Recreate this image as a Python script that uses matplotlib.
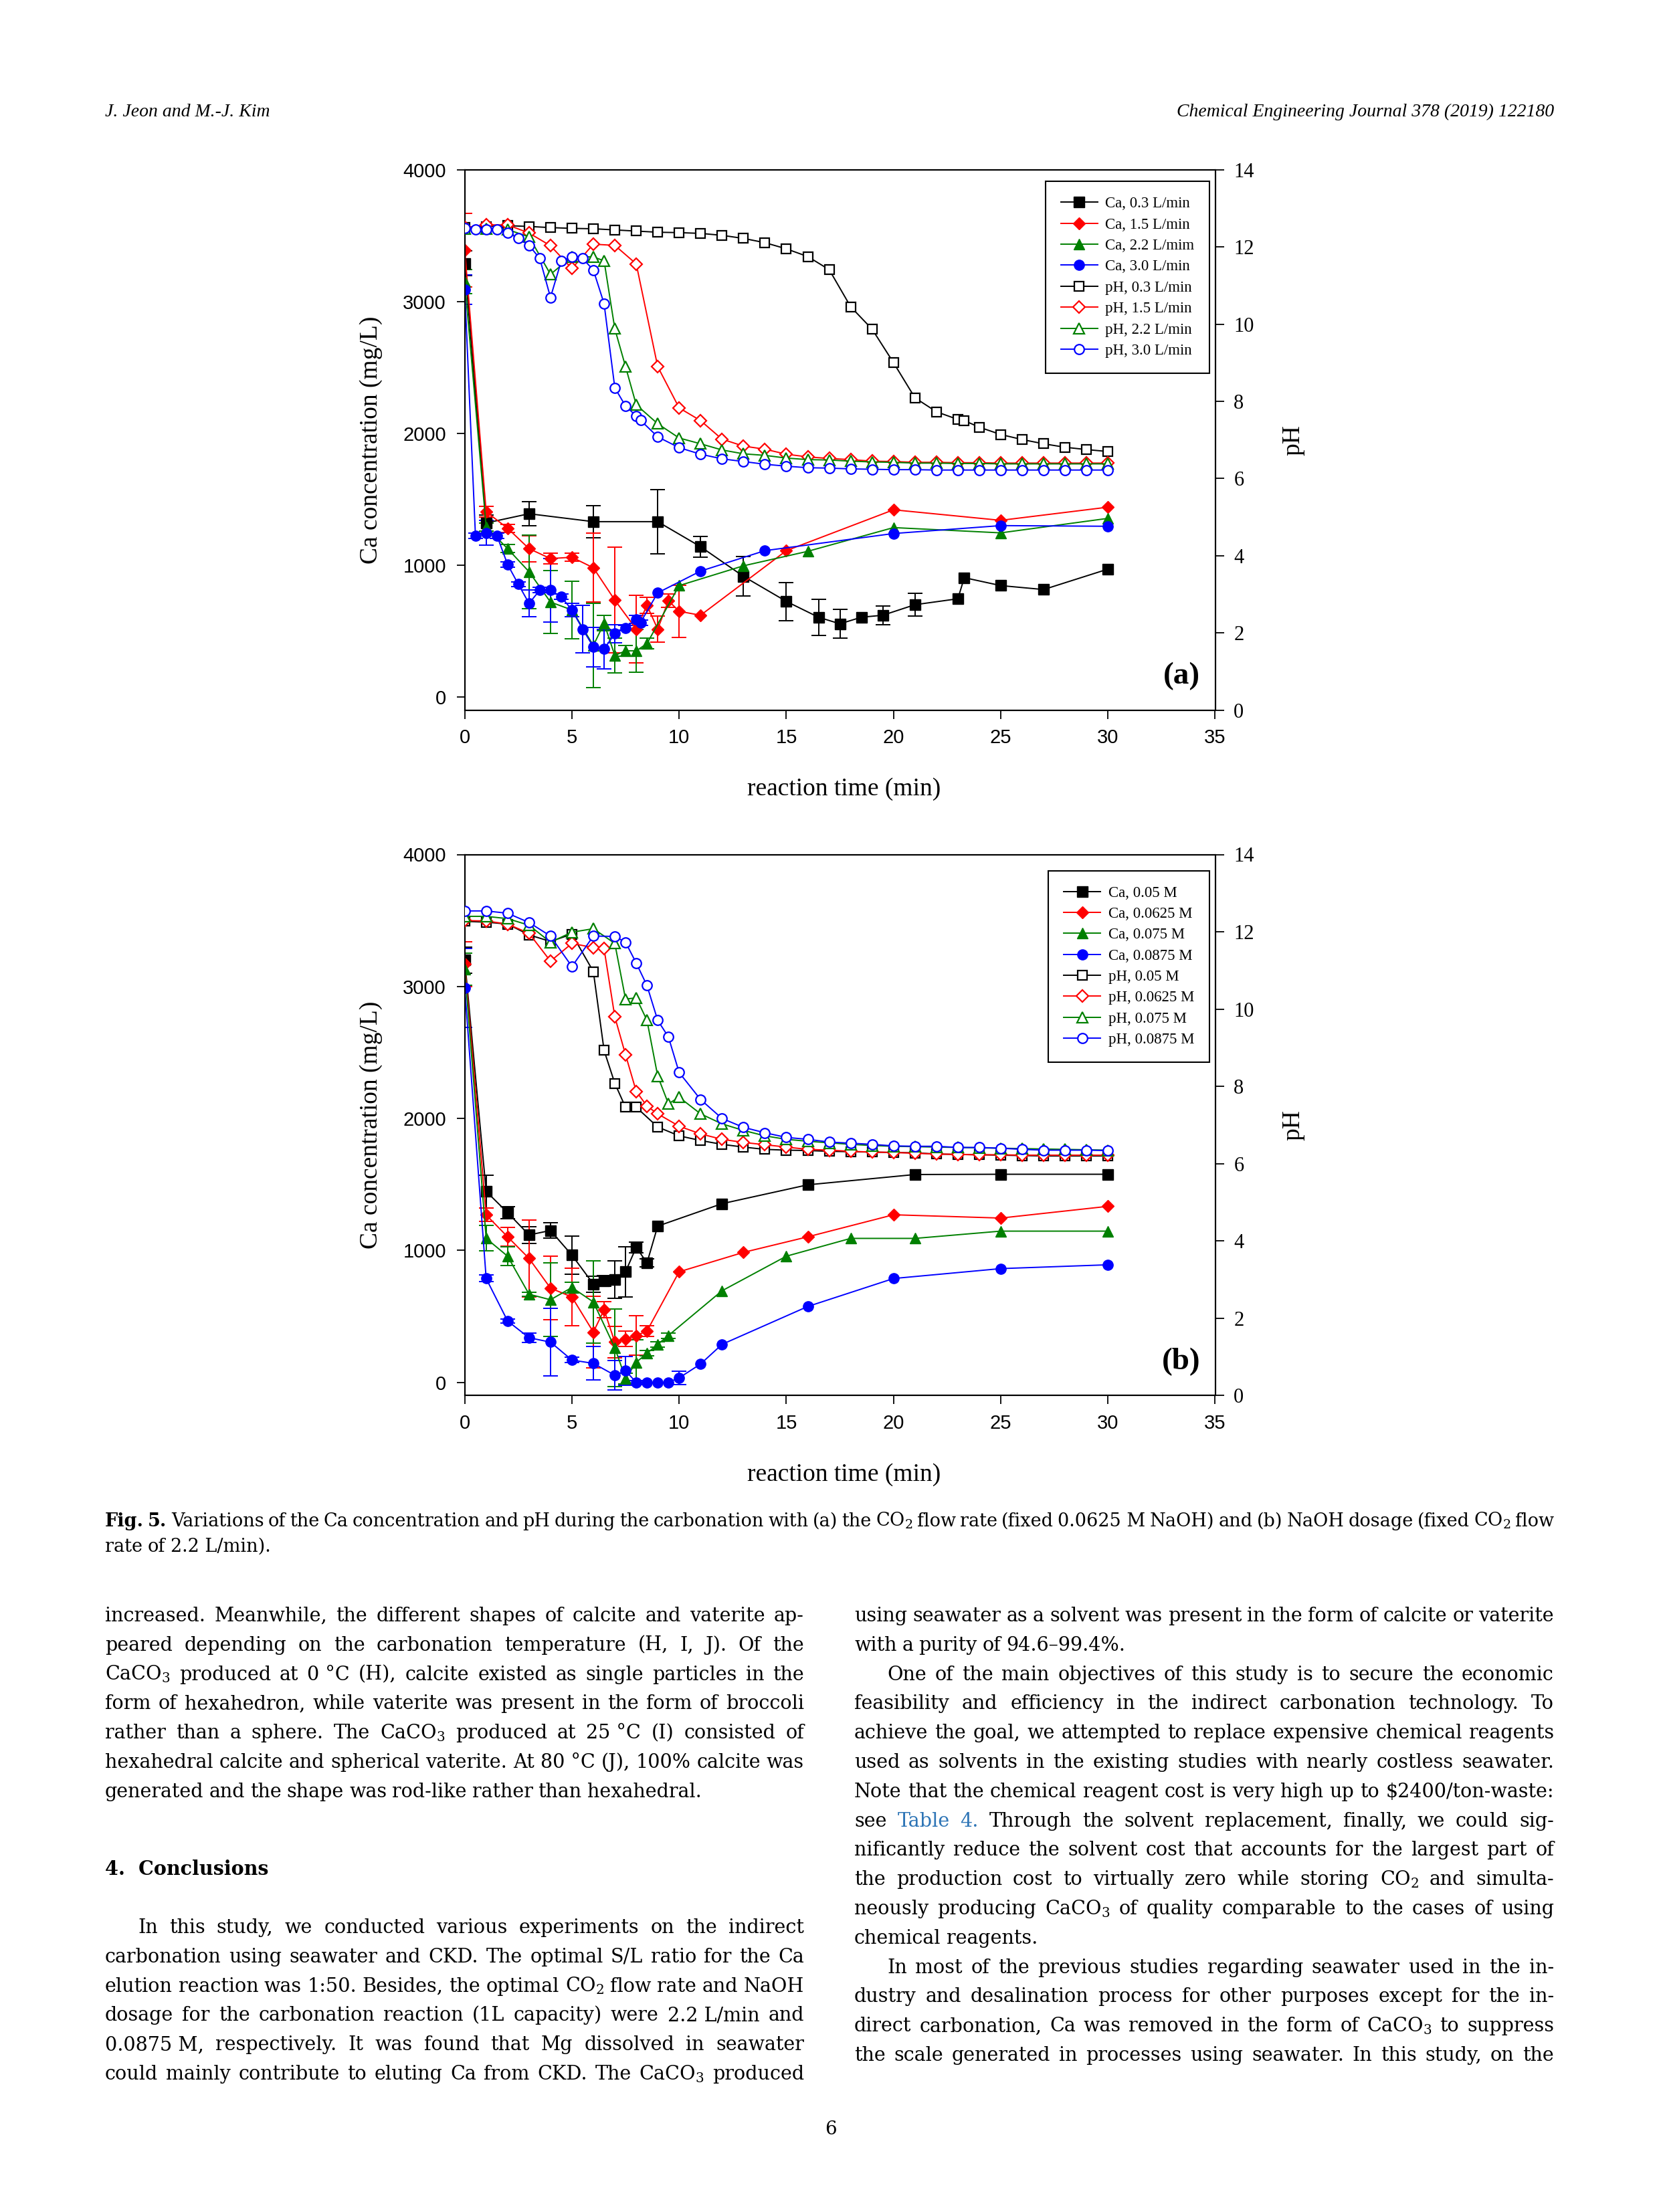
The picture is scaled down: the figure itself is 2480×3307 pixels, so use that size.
import matplotlib
matplotlib.use('Agg')
import matplotlib.pyplot as plt
import numpy as np

plt.rcParams['font.family'] = ['Liberation Serif', 'DejaVu Serif']
plt.rcParams['mathtext.fontset'] = 'custom'
plt.rcParams['mathtext.rm'] = 'Liberation Serif'
plt.rcParams['mathtext.default'] = 'regular'

# ---------------- data, panel (a): CO2 flow rate ----------------
a_t_ca03 = [0, 1, 3, 6, 9, 11, 13, 15, 16.5, 17.5, 18.5, 19.5, 21, 23, 23.3, 25, 27, 30]
a_ca03 = [3290, 1320, 1390, 1330, 1330, 1140, 915, 725, 605, 555, 605, 620, 700, 745, 905, 845, 815, 970]
a_err03 = [95, 60, 90, 120, 245, 80, 150, 145, 138, 110, 0, 70, 87, 0, 0, 0, 0, 0]

a_t_ca15 = [0, 1, 2, 3, 4, 5, 6, 7, 8, 8.5, 9, 9.5, 10, 11, 15, 20, 25, 30]
a_ca15 = [3390, 1405, 1280, 1125, 1050, 1060, 980, 735, 515, 695, 515, 730, 650, 620, 1110, 1420, 1340, 1440]
a_err15 = [280, 40, 30, 100, 40, 30, 262, 400, 254, 60, 100, 50, 196, 0, 0, 0, 0, 0]

a_t_ca22 = [0, 1, 2, 3, 4, 5, 6, 6.5, 7, 7.5, 8, 8.5, 10, 13, 16, 20, 25, 30]
a_ca22 = [3150, 1290, 1125, 950, 720, 660, 390, 560, 315, 350, 350, 405, 845, 995, 1105, 1285, 1245, 1355]
a_err22 = [90, 30, 30, 280, 240, 220, 320, 60, 130, 40, 160, 40, 0, 0, 0, 0, 0, 0]

a_t_ca30 = [0, 0.5, 1, 1.5, 2, 2.5, 3, 3.5, 4, 4.5, 5, 5.5, 6, 6.5, 7, 7.5, 8, 8.2, 9, 11, 14, 20, 25, 30]
a_ca30 = [3090, 1225, 1245, 1225, 1005, 855, 710, 810, 810, 760, 660, 515, 380, 365, 480, 525, 590, 565,
          790, 955, 1110, 1240, 1300, 1295]
a_err30 = [110, 20, 95, 20, 20, 20, 100, 20, 240, 20, 50, 180, 150, 150, 70, 20, 30, 20, 0, 0, 0, 0, 0, 0]

a_t_ph03 = list(range(0, 24)) + [23.3] + list(range(24, 31))
a_ph03 = [12.5, 12.53, 12.55, 12.53, 12.50, 12.48, 12.47, 12.44, 12.41, 12.38, 12.37, 12.35, 12.30, 12.22,
          12.11, 11.95, 11.75, 11.41, 10.45, 9.87, 9.0, 8.09, 7.73, 7.53, 7.50, 7.33, 7.14, 7.01, 6.90, 6.81,
          6.75, 6.70]

a_t_ph15 = list(range(0, 31))
a_ph15 = [12.5, 12.57, 12.57, 12.36, 12.03, 11.44, 12.07, 12.04, 11.56, 8.90, 7.83, 7.50, 7.02, 6.84, 6.76,
          6.63, 6.56, 6.52, 6.49, 6.45, 6.44, 6.42, 6.42, 6.41, 6.41, 6.40, 6.40, 6.40, 6.40, 6.40, 6.40]

a_t_ph22 = [0, 1, 2, 3, 4, 5, 6, 6.5, 7, 7.5, 8] + list(range(9, 31))
a_ph22 = [12.47, 12.47, 12.45, 12.26, 11.29, 11.75, 11.74, 11.64, 9.88, 8.90, 7.91, 7.42, 7.05, 6.90, 6.74,
          6.64, 6.60, 6.53, 6.49, 6.48, 6.45, 6.43, 6.42, 6.40, 6.40, 6.39, 6.39, 6.38, 6.38, 6.38, 6.38,
          6.38, 6.38]

a_t_ph30 = [0, 0.5, 1, 1.5, 2, 2.5, 3, 3.5, 4, 4.5, 5, 5.5, 6, 6.5, 7, 7.5, 8, 8.2] + list(range(9, 31))
a_ph30 = [12.48, 12.46, 12.46, 12.46, 12.36, 12.23, 12.04, 11.70, 10.69, 11.63, 11.75, 11.70, 11.40, 10.53,
          8.35, 7.88, 7.62, 7.51, 7.08, 6.80, 6.63, 6.51, 6.44, 6.37, 6.32, 6.28, 6.27, 6.25, 6.24, 6.23,
          6.23, 6.22, 6.22, 6.22, 6.22, 6.22, 6.22, 6.22, 6.22, 6.22]

a_labels = ['Ca, 0.3 L/min', 'Ca, 1.5 L/min', 'Ca, 2.2 L/mim', 'Ca, 3.0 L/min',
            'pH, 0.3 L/min', 'pH, 1.5 L/min', 'pH, 2.2 L/min', 'pH, 3.0 L/min']

# ---------------- data, panel (b): NaOH dosage ----------------
b_t_ca05 = [0, 1, 2, 3, 4, 5, 6, 6.5, 7, 7.5, 8, 8.5, 9, 12, 16, 21, 25, 30]
b_ca05 = [3200, 1447, 1286, 1117, 1151, 964, 745, 770, 778, 838, 1024, 905, 1184, 1354, 1497, 1575, 1577, 1577]
b_err05 = [100, 124, 47, 62, 57, 144, 60, 40, 142, 190, 40, 30, 0, 0, 0, 0, 0, 0]

b_t_ca0625 = [0, 1, 2, 3, 4, 5, 6, 6.5, 7, 7.5, 8, 8.5, 10, 13, 16, 20, 25, 30]
b_ca0625 = [3170, 1269, 1103, 939, 714, 647, 381, 550, 305, 330, 355, 389, 838, 985, 1103, 1270, 1245, 1334]
b_err0625 = [170, 50, 72, 290, 240, 220, 270, 60, 120, 60, 150, 40, 0, 0, 0, 0, 0, 0]

b_t_ca075 = [0, 1, 2, 3, 4, 5, 6, 7, 7.5, 8, 8.5, 9, 9.5, 12, 15, 18, 21, 25, 30]
b_ca075 = [3130, 1091, 956, 668, 626, 719, 609, 262, 30, 152, 220, 288, 355, 694, 956, 1091, 1091, 1146, 1146]
b_err075 = [120, 96, 70, 15, 280, 40, 310, 296, 40, 170, 20, 20, 20, 0, 0, 0, 0, 0, 0]

b_t_ca0875 = [0, 1, 2, 3, 4, 5, 6, 7, 7.5, 8, 8.5, 9, 9.5, 10, 11, 12, 16, 20, 25, 30]
b_ca0875 = [2990, 787, 465, 338, 305, 169, 144, 54, 88, 0, 0, 0, 0, 34, 139, 288, 575, 787, 862, 891]
b_err0875 = [300, 25, 15, 37, 258, 20, 127, 110, 110, 15, 0, 0, 0, 52, 0, 0, 0, 0, 0, 0]

b_t_ph05 = [0, 1, 2, 3, 4, 5, 6, 6.5, 7, 7.5, 8] + list(range(9, 31))
b_ph05 = [12.27, 12.25, 12.20, 11.92, 11.75, 11.94, 10.97, 8.93, 8.08, 7.46, 7.46, 6.95, 6.72, 6.60, 6.50,
          6.43, 6.37, 6.35, 6.34, 6.32, 6.31, 6.30, 6.29, 6.28, 6.25, 6.24, 6.23, 6.22, 6.21, 6.20, 6.20,
          6.20, 6.20]

b_t_ph0625 = [0, 1, 2, 3, 4, 5, 6, 6.5, 7, 7.5, 8, 8.5] + list(range(9, 31))
b_ph0625 = [12.29, 12.28, 12.20, 11.96, 11.24, 11.70, 11.59, 11.56, 9.80, 8.82, 7.87, 7.49, 7.29, 6.97,
            6.77, 6.63, 6.55, 6.49, 6.43, 6.37, 6.35, 6.32, 6.30, 6.29, 6.27, 6.25, 6.24, 6.23, 6.23, 6.22,
            6.22, 6.22, 6.22, 6.22]

b_t_ph075 = [0, 1, 2, 3, 4, 5, 6, 7, 7.5, 8, 8.5, 9, 9.5] + list(range(10, 31))
b_ph075 = [12.40, 12.40, 12.34, 12.17, 11.73, 11.99, 12.08, 11.70, 10.26, 10.29, 9.71, 8.27, 7.55, 7.72,
           7.29, 7.03, 6.86, 6.72, 6.63, 6.58, 6.54, 6.50, 6.47, 6.45, 6.44, 6.43, 6.42, 6.41, 6.40, 6.39,
           6.38, 6.37, 6.36, 6.35]

b_t_ph0875 = [0, 1, 2, 3, 4, 5, 6, 7, 7.5, 8, 8.5, 9, 9.5] + list(range(10, 31))
b_ph0875 = [12.54, 12.54, 12.48, 12.24, 11.89, 11.10, 11.89, 11.88, 11.73, 11.19, 10.61, 9.71, 9.28, 8.36,
            7.66, 7.17, 6.94, 6.80, 6.68, 6.63, 6.56, 6.53, 6.50, 6.46, 6.45, 6.45, 6.42, 6.42, 6.40, 6.37,
            6.35, 6.35, 6.35, 6.34]

b_labels = ['Ca, 0.05 M', 'Ca, 0.0625 M', 'Ca, 0.075 M', 'Ca, 0.0875 M',
            'pH, 0.05 M', 'pH, 0.0625 M', 'pH, 0.075 M', 'pH, 0.0875 M']

colors = ['black', '#ff0000', '#008000', '#0000ff']
markers = ['s', 'D', '^', 'o']
msizes = [11, 9.5, 12, 11]

# ---------------- page text ----------------
header_left = 'J. Jeon and M.-J. Kim'
header_right = 'Chemical Engineering Journal 378 (2019) 122180'

caption = [
    '*Fig. *5. Variations of the Ca concentration and pH during the carbonation with (a) the CO$_2$ flow rate '
    '(fixed 0.0625\u00a0M NaOH) and (b) NaOH dosage (fixed CO$_2$ flow',
    'rate of 2.2\u00a0L/min).',
]

left_par1 = [
    'increased. Meanwhile, the different shapes of calcite and vaterite ap-',
    'peared depending on the carbonation temperature (H, I, J). Of the',
    'CaCO$_3$ produced at 0\u00a0°C (H), calcite existed as single particles in the',
    'form of hexahedron, while vaterite was present in the form of broccoli',
    'rather than a sphere. The CaCO$_3$ produced at 25\u00a0°C (I) consisted of',
    'hexahedral calcite and spherical vaterite. At 80\u00a0°C (J), 100% calcite was',
    'generated and the shape was rod-like rather than hexahedral.',
]
left_par2 = [
    'In this study, we conducted various experiments on the indirect',
    'carbonation using seawater and CKD. The optimal S/L ratio for the Ca',
    'elution reaction was 1:50. Besides, the optimal CO$_2$ flow rate and NaOH',
    'dosage for the carbonation reaction (1L capacity) were 2.2\u00a0L/min and',
    '0.0875\u00a0M, respectively. It was found that Mg dissolved in seawater',
    'could mainly contribute to eluting Ca from CKD. The CaCO$_3$ produced',
]
right_lines = [
    'using seawater as a solvent was present in the form of calcite or vaterite',
    'with a purity of 94.6–99.4%.',
    'One of the main objectives of this study is to secure the economic',
    'feasibility and efficiency in the indirect carbonation technology. To',
    'achieve the goal, we attempted to replace expensive chemical reagents',
    'used as solvents in the existing studies with nearly costless seawater.',
    r'Note that the chemical reagent cost is very high up to \$2400/ton-waste:',
    'see #Table #4. Through the solvent replacement, finally, we could sig-',
    'nificantly reduce the solvent cost that accounts for the largest part of',
    'the production cost to virtually zero while storing CO$_2$ and simulta-',
    'neously producing CaCO$_3$ of quality comparable to the cases of using',
    'chemical reagents.',
    'In most of the previous studies regarding seawater used in the in-',
    'dustry and desalination process for other purposes except for the in-',
    'direct carbonation, Ca was removed in the form of CaCO$_3$ to suppress',
    'the scale generated in processes using seawater. In this study, on the',
]
right_indent = [2, 12]
right_last = [1, 11]

W, H = 2480, 3307
fig = plt.figure(figsize=(W / 100, H / 100), dpi=100)
renderer = fig.canvas.get_renderer()

BODY_FONT = 'DejaVu Serif'


def fx(x):
    return x / W


def fy(y):
    return 1 - y / H


def text_line(line, x0, x1, y, size, justify=True, indent=0, family=BODY_FONT):
    # put words one by one so the line can be justified like the journal page
    objs = []
    for tok in line.split(' '):
        color, weight = 'black', 'normal'
        while tok[:1] in ('*', '#'):
            if tok[0] == '*':
                weight = 'bold'
            else:
                color = '#2e75b6'
            tok = tok[1:]
        objs.append(fig.text(0, fy(y), tok, fontsize=size, color=color, fontweight=weight,
                             family=family, ha='left', va='baseline'))
    widths = [t.get_window_extent(renderer).width for t in objs]
    start = x0 + indent
    space = 0.28 * size * 100 / 72
    if justify and len(objs) > 1:
        gap = (x1 - start - sum(widths)) / (len(objs) - 1)
    else:
        gap = space
    x = start
    for t, w in zip(objs, widths):
        t.set_x(fx(x))
        x += w + gap


AX_L, AX_R = 694.7, 1816.5


def make_axes(top, bottom):
    ax = fig.add_axes([fx(AX_L), fy(bottom), (AX_R - AX_L) / W, (bottom - top) / H])
    ax.set_xlim(0, 35)
    ax.set_ylim(-100, 4000)
    ax.set_xticks(range(0, 36, 5))
    ax.set_yticks(range(0, 4001, 1000))
    ax.tick_params(axis='both', direction='out', length=9, width=1.3, pad=11, labelsize=21)
    for lbl in ax.get_xticklabels() + ax.get_yticklabels():
        lbl.set_fontfamily('Liberation Sans')
    ax2 = ax.twinx()
    ax2.set_ylim(0, 14)
    ax2.set_yticks(range(0, 15, 2))
    ax2.tick_params(axis='y', direction='out', length=9, width=1.3, pad=11, labelsize=22)
    for a in (ax, ax2):
        for sp in a.spines.values():
            sp.set_linewidth(1.5)
    ax.text(-0.1245, 0.5, 'Ca concentration (mg/L)', transform=ax.transAxes, rotation=90,
            ha='center', va='center', fontsize=27)
    ax.text(1.104, 0.5, 'pH', transform=ax.transAxes, rotation=90, ha='center', va='center', fontsize=27)
    ax.text(0.505, -0.146, 'reaction time (min)', transform=ax.transAxes, ha='center', va='center',
            fontsize=27)
    return ax, ax2


def draw_panel(ax, ax2, ca_sets, ph_sets, labels, tag, anchor):
    handles = []
    for i, (t, v, e) in enumerate(ca_sets):
        t, v, e = np.array(t), np.array(v), np.array(e)
        keep = e > 0
        ax.errorbar(t[keep], v[keep], yerr=e[keep], fmt='none', ecolor=colors[i], elinewidth=1.4,
                    capsize=8, capthick=1.4, zorder=2)
        ln, = ax.plot(t, v, color=colors[i], lw=1.4, marker=markers[i], ms=msizes[i],
                      mfc=colors[i], mec=colors[i], zorder=3)
        handles.append(ln)
    for i, (t, v) in enumerate(ph_sets):
        ln, = ax2.plot(t, v, color=colors[i], lw=1.4, marker=markers[i], ms=msizes[i] - 0.5,
                       mfc='white', mec=colors[i], mew=1.6, zorder=3)
        handles.append(ln)
    leg = ax2.legend(handles, labels, loc='upper right', bbox_to_anchor=anchor, borderaxespad=0,
                     frameon=True, fancybox=False, edgecolor='black', framealpha=1, handlelength=2.4,
                     handletextpad=0.5, labelspacing=0.45, borderpad=1.0,
                     prop={'family': 'Liberation Serif', 'size': 16.5})
    leg.get_frame().set_linewidth(1.5)
    ax.text(0.955, 0.063, tag, transform=ax.transAxes, ha='center', va='center', fontsize=34,
            fontweight='bold')


ax_a, ax_a2 = make_axes(253.7, 1061.7)
draw_panel(ax_a, ax_a2,
           [(a_t_ca03, a_ca03, a_err03), (a_t_ca15, a_ca15, a_err15),
            (a_t_ca22, a_ca22, a_err22), (a_t_ca30, a_ca30, a_err30)],
           [(a_t_ph03, a_ph03), (a_t_ph15, a_ph15), (a_t_ph22, a_ph22), (a_t_ph30, a_ph30)],
           a_labels, '(a)', (0.9925, 0.978))

ax_b, ax_b2 = make_axes(1277.5, 2086.4)
draw_panel(ax_b, ax_b2,
           [(b_t_ca05, b_ca05, b_err05), (b_t_ca0625, b_ca0625, b_err0625),
            (b_t_ca075, b_ca075, b_err075), (b_t_ca0875, b_ca0875, b_err0875)],
           [(b_t_ph05, b_ph05), (b_t_ph0625, b_ph0625), (b_t_ph075, b_ph075), (b_t_ph0875, b_ph0875)],
           b_labels, '(b)', (0.9925, 0.97))

# header
fig.text(fx(157), fy(174), header_left, fontsize=20, style='italic', ha='left', va='baseline')
fig.text(fx(2323), fy(174), header_right, fontsize=20, style='italic', ha='right', va='baseline')

# caption
text_line(caption[0], 157, 2323, 2282, 19.5, justify=True)
text_line(caption[1], 157, 2323, 2320, 19.5, justify=False)

# body text, two columns
LX0, LX1, RX0, RX1 = 157, 1202, 1277, 2323
lead = 43.8
BODY = 20.6
for k, line in enumerate(left_par1):
    text_line(line, LX0, LX1, 2424 + k * lead, BODY, justify=(k < len(left_par1) - 1))
fig.text(fx(LX0), fy(2803), '4.  Conclusions', fontsize=BODY, fontweight='bold', family=BODY_FONT,
         ha='left', va='baseline')
for k, line in enumerate(left_par2):
    text_line(line, LX0, LX1, 2890 + k * lead, BODY, justify=True, indent=49 if k == 0 else 0)
for k, line in enumerate(right_lines):
    text_line(line, RX0, RX1, 2424 + k * lead, BODY, justify=(k not in right_last),
              indent=49 if k in right_indent else 0)

fig.text(fx(1242), fy(3191), '6', fontsize=20, family=BODY_FONT, ha='center', va='baseline')

fig.savefig('out.png', dpi=100)
